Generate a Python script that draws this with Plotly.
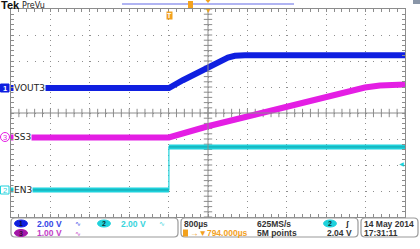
import numpy as np
import plotly.graph_objects as go

# ---------------- acquisition settings ----------------
time_per_div_us = 800.0
n_xdiv = 10
delay_us = 794.0          # trigger -> centre of screen
n_ydiv = 8

ch1_scale, ch1_pos = 2.0, 0.96    # V/div, ground position (div)
ch2_scale, ch2_pos = 2.0, -2.96
ch3_scale, ch3_pos = 1.0, -0.94
trig_level_v = 2.04

# ---------------- waveform data (time in µs, volts) ----------------
vout3_t = [-3206, 0, 284, 528, 792, 1035, 1198, 1340, 1543, 4794]
vout3_v = [0.0, 0.0, 0.60, 1.10, 1.62, 2.10, 2.35, 2.48, 2.52, 2.52]

ss3_t = [-3206, 0, 792, 1440, 2050, 2456, 3268, 3674, 3979, 4284, 4600, 4794]
ss3_v = [0.0, 0.0, 0.43, 0.73, 1.04, 1.23, 1.62, 1.80, 1.92, 2.00, 2.03, 2.04]

en3_t = [-3206, 0, 0, 4794]
en3_v = [0.0, 0.0, 3.31, 3.31]

# ---------------- status text ----------------
ch1_label, ch2_label, ch3_label = "VOUT3", "EN3", "SS3"
ch1_scale_txt, ch2_scale_txt, ch3_scale_txt = "2.00 V", "2.00 V", "1.00 V"
timebase_txt = "800µs"
delay_txt = "→▼794.000µs"
rate_txt = "625MS/s"
points_txt = "5M points"
trig_txt = "2.04 V"
date_txt = "14 May 2014"
clock_txt = "17:31:11"

BLUE = "#0f1fe0"
MAG = "#e41ee4"
CYAN = "#1ed2dc"
ORANGE = "#f2a11e"
GRID = "#8e8e8e"
FRAME = "#8c8c8c"

W, H = 420, 249
L, R, T, B = 11, 15, 9, 32
PW, PH = W - L - R, H - T - B

def px(x):
    return (x - L) / PW

def py(y):
    return (H - B - y) / PH

xmin = delay_us - n_xdiv / 2 * time_per_div_us
xmax = delay_us + n_xdiv / 2 * time_per_div_us

def yrange(scale, pos):
    return [(-n_ydiv / 2 - pos) * scale, (n_ydiv / 2 - pos) * scale]

fig = go.Figure()

# centre-line tick marks of the graticule
xt = np.arange(xmin, xmax + 1, time_per_div_us / 5)
yt = np.arange(-n_ydiv / 2, n_ydiv / 2 + 0.01, 0.2)
fig.add_trace(go.Scatter(x=xt, y=[0] * len(xt), mode="markers", hoverinfo="skip",
                         marker=dict(symbol="line-ns", size=6, line=dict(width=1, color=FRAME))))
fig.add_trace(go.Scatter(x=[delay_us] * len(yt), y=yt, mode="markers", hoverinfo="skip",
                         marker=dict(symbol="line-ew", size=6, line=dict(width=1, color=FRAME))))

# channel 3 (SS3)
fig.add_trace(go.Scatter(x=ss3_t, y=ss3_v, yaxis="y4", mode="lines",
                         line=dict(color=MAG, width=6), hoverinfo="skip"))
# channel 2 (EN3): thin full trace plus thick flat parts
fig.add_trace(go.Scatter(x=en3_t, y=en3_v, yaxis="y3", mode="lines",
                         line=dict(color=CYAN, width=1.2), hoverinfo="skip"))
seg_x, seg_y = [], []
for i in range(len(en3_t)):
    if i > 0 and en3_t[i] == en3_t[i - 1]:
        seg_x.append(None); seg_y.append(None)
    seg_x.append(en3_t[i]); seg_y.append(en3_v[i])
fig.add_trace(go.Scatter(x=seg_x, y=seg_y, yaxis="y3", mode="lines",
                         line=dict(color=CYAN, width=5), hoverinfo="skip"))
fig.add_trace(go.Scatter(x=seg_x, y=seg_y, yaxis="y3", mode="lines",
                         line=dict(color="#14a4ac", width=1), hoverinfo="skip"))
# channel 1 (VOUT3)
fig.add_trace(go.Scatter(x=vout3_t, y=vout3_v, yaxis="y2", mode="lines",
                         line=dict(color=BLUE, width=6), hoverinfo="skip"))

hidden = dict(showgrid=False, zeroline=False, showticklabels=False, showline=False,
              ticks="", overlaying="y", fixedrange=True)

fig.update_layout(
    width=W, height=H, margin=dict(l=L, r=R, t=T, b=B, pad=0),
    paper_bgcolor="white", plot_bgcolor="white", showlegend=False,
    xaxis=dict(range=[xmin, xmax], tick0=xmin, dtick=time_per_div_us,
               showgrid=True, gridcolor=GRID, griddash="1px,4.2px", gridwidth=1,
               showline=True, linecolor=FRAME, linewidth=1, mirror="allticks",
               ticks="inside", ticklen=3, tickcolor=FRAME,
               minor=dict(tick0=xmin, dtick=time_per_div_us / 5, ticks="inside",
                          ticklen=3, tickcolor=FRAME, showgrid=False),
               showticklabels=False, zeroline=False, fixedrange=True),
    yaxis=dict(range=[-n_ydiv / 2, n_ydiv / 2], tick0=-n_ydiv / 2, dtick=1,
               showgrid=True, gridcolor=GRID, griddash="1px,6.88px", gridwidth=1,
               showline=True, linecolor=FRAME, linewidth=1, mirror="allticks",
               ticks="inside", ticklen=3, tickcolor=FRAME,
               minor=dict(tick0=-n_ydiv / 2, dtick=0.2, ticks="inside",
                          ticklen=3, tickcolor=FRAME, showgrid=False),
               showticklabels=False, zeroline=False, fixedrange=True),
    yaxis2=dict(range=yrange(ch1_scale, ch1_pos), **hidden),
    yaxis3=dict(range=yrange(ch2_scale, ch2_pos), **hidden),
    yaxis4=dict(range=yrange(ch3_scale, ch3_pos), **hidden),
)

shapes = []
ann = []

# centre cross lines
shapes.append(dict(type="line", xref="x", yref="paper", x0=delay_us, x1=delay_us, y0=0, y1=1,
                   line=dict(color=FRAME, width=1)))
shapes.append(dict(type="line", xref="paper", yref="y", x0=0, x1=1, y0=0, y1=0,
                   line=dict(color=FRAME, width=1)))

def text(x, y, s, size=9.5, color="#303030", xanchor="left", family="Liberation Sans",
         bg=None, bold=False, **kw):
    d = dict(xref="paper", yref="paper", x=px(x), y=py(y), text=("<b>%s</b>" % s) if bold else s,
             showarrow=False, xanchor=xanchor, yanchor="middle",
             font=dict(size=size, color=color, family=family), borderpad=0)
    if bg:
        d["bgcolor"] = bg
    d.update(kw)
    ann.append(d)

def box(x0, y0, x1, y1, r=4, color="#9a9a9a"):
    a, b_, c, d = px(x0), py(y0), px(x1), py(y1)
    rx, ry = r / PW, r / PH
    p = (f"M{a+rx},{b_} L{c-rx},{b_} Q{c},{b_} {c},{b_-ry} L{c},{d+ry} Q{c},{d} {c-rx},{d} "
         f"L{a+rx},{d} Q{a},{d} {a},{d+ry} L{a},{b_-ry} Q{a},{b_} {a+rx},{b_} Z")
    shapes.append(dict(type="path", xref="paper", yref="paper", path=p,
                       line=dict(color=color, width=1.2), fillcolor="white", layer="above"))

def oval(xc, yc, w, h, fill, line=None):
    shapes.append(dict(type="circle", xref="paper", yref="paper",
                       x0=px(xc - w / 2), x1=px(xc + w / 2), y0=py(yc + h / 2), y1=py(yc - h / 2),
                       fillcolor=fill, line=dict(color=line or fill, width=1), layer="above"))

# --- header ---
text(0, 5, "Tek", size=11, color="#111", bold=True, family="Liberation Sans")
text(20.5, 5, "PreVu", size=8, color="#222", family="DejaVu Sans")
shapes.append(dict(type="line", xref="paper", yref="paper", x0=px(122), x1=px(294), y0=py(4), y1=py(4),
                   line=dict(color="#b0b4f2", width=2)))
shapes.append(dict(type="rect", xref="paper", yref="paper", x0=px(188), x1=px(193), y0=py(8), y1=py(1),
                   fillcolor=ORANGE, line=dict(width=0)))
shapes.append(dict(type="path", xref="paper", yref="paper",
                   path=f"M{px(205.5)},{py(0)} L{px(210.5)},{py(0)} L{px(208)},{py(3)} Z",
                   fillcolor=ORANGE, line=dict(width=0)))
shapes.append(dict(type="rect", xref="paper", yref="paper", x0=px(413), x1=px(420), y0=py(4), y1=py(0),
                   fillcolor="#8a96a8", line=dict(width=0)))
text(208, 11, "▼", size=7, color=ORANGE, xanchor="center")
text(169, 16, "T", size=7, color="white", xanchor="center", bg=ORANGE, bold=True)

# --- channel labels and ground markers ---
text(12.5, 88, ch1_label, size=9, color="#222", bg="white", family="DejaVu Sans")
text(12.5, 137, ch3_label, size=9, color="#222", bg="white", family="DejaVu Sans")
text(12.5, 190, ch2_label, size=9, color="#222", bg="white", family="DejaVu Sans")
shapes.append(dict(type="rect", xref="paper", yref="paper", x0=px(0.5), x1=px(9), y0=py(92), y1=py(84),
                   fillcolor=BLUE, line=dict(color=BLUE, width=1)))
text(4.7, 88, "1", size=7.5, color="white", xanchor="center", bold=True)
oval(5, 137, 9, 9, "white", MAG)
text(5, 137, "3", size=7.5, color=MAG, xanchor="center")
shapes.append(dict(type="rect", xref="paper", yref="paper", x0=px(0.5), x1=px(9), y0=py(194), y1=py(186),
                   fillcolor="white", line=dict(color=CYAN, width=1)))
text(4.7, 190, "2", size=7.5, color=CYAN, xanchor="center")

# trigger level marker
text(401.5, 164, "◀", size=6, color=CYAN, xanchor="center")

# --- status bar ---
box(11, 218, 178, 237)
box(181, 218, 358, 237)
box(361, 218, 418, 237)
r1, r2 = 223.5, 233
FS = 8.5
oval(21, r1, 13, 7, BLUE)
text(21, r1, "1", size=7, color="#101030", xanchor="center", bold=True)
text(36, r1, ch1_scale_txt, size=FS, color="#3646e6", bold=True)
text(78, r1, "∿", size=7, color="#3646e6", xanchor="center")
oval(104, r1, 13, 7, CYAN)
text(104, r1, "2", size=7, color="#103030", xanchor="center", bold=True)
text(120, r1, ch2_scale_txt, size=FS, color="#38d4dc", bold=True)
text(162, r1, "∿", size=7, color="#38d4dc", xanchor="center")
oval(21, r2, 13, 7, "#a416a8")
text(21, r2, "3", size=7, color="#301030", xanchor="center", bold=True)
text(36, r2, ch3_scale_txt, size=FS, color="#c23ec6", bold=True)
text(78, r2, "∿", size=7, color="#c23ec6", xanchor="center")

text(183, r1, timebase_txt, size=FS, color="#333", bold=True)
shapes.append(dict(type="rect", xref="paper", yref="paper", x0=px(183), x1=px(188), y0=py(236.5), y1=py(229.5),
                   fillcolor=ORANGE, line=dict(width=0), layer="above"))
text(188.5, r2, delay_txt, size=FS, color=ORANGE, bold=True)
text(256, r1, rate_txt, size=FS, color="#333", bold=True)
text(256, r2, points_txt, size=FS, color="#333", bold=True)
oval(330, r1, 13, 7, CYAN)
text(330, r1, "2", size=7, color="#103030", xanchor="center", bold=True)
text(347, r1, "ʃ", size=8, color="#222", xanchor="center", bold=True)
text(353, r2, trig_txt, size=FS, color="#333", xanchor="right", bold=True)
text(363, r1, date_txt, size=FS, color="#333", bold=True)
text(363, r2, clock_txt, size=FS, color="#333", bold=True)

fig.update_layout(shapes=shapes, annotations=ann)
fig.write_html("out.html")
